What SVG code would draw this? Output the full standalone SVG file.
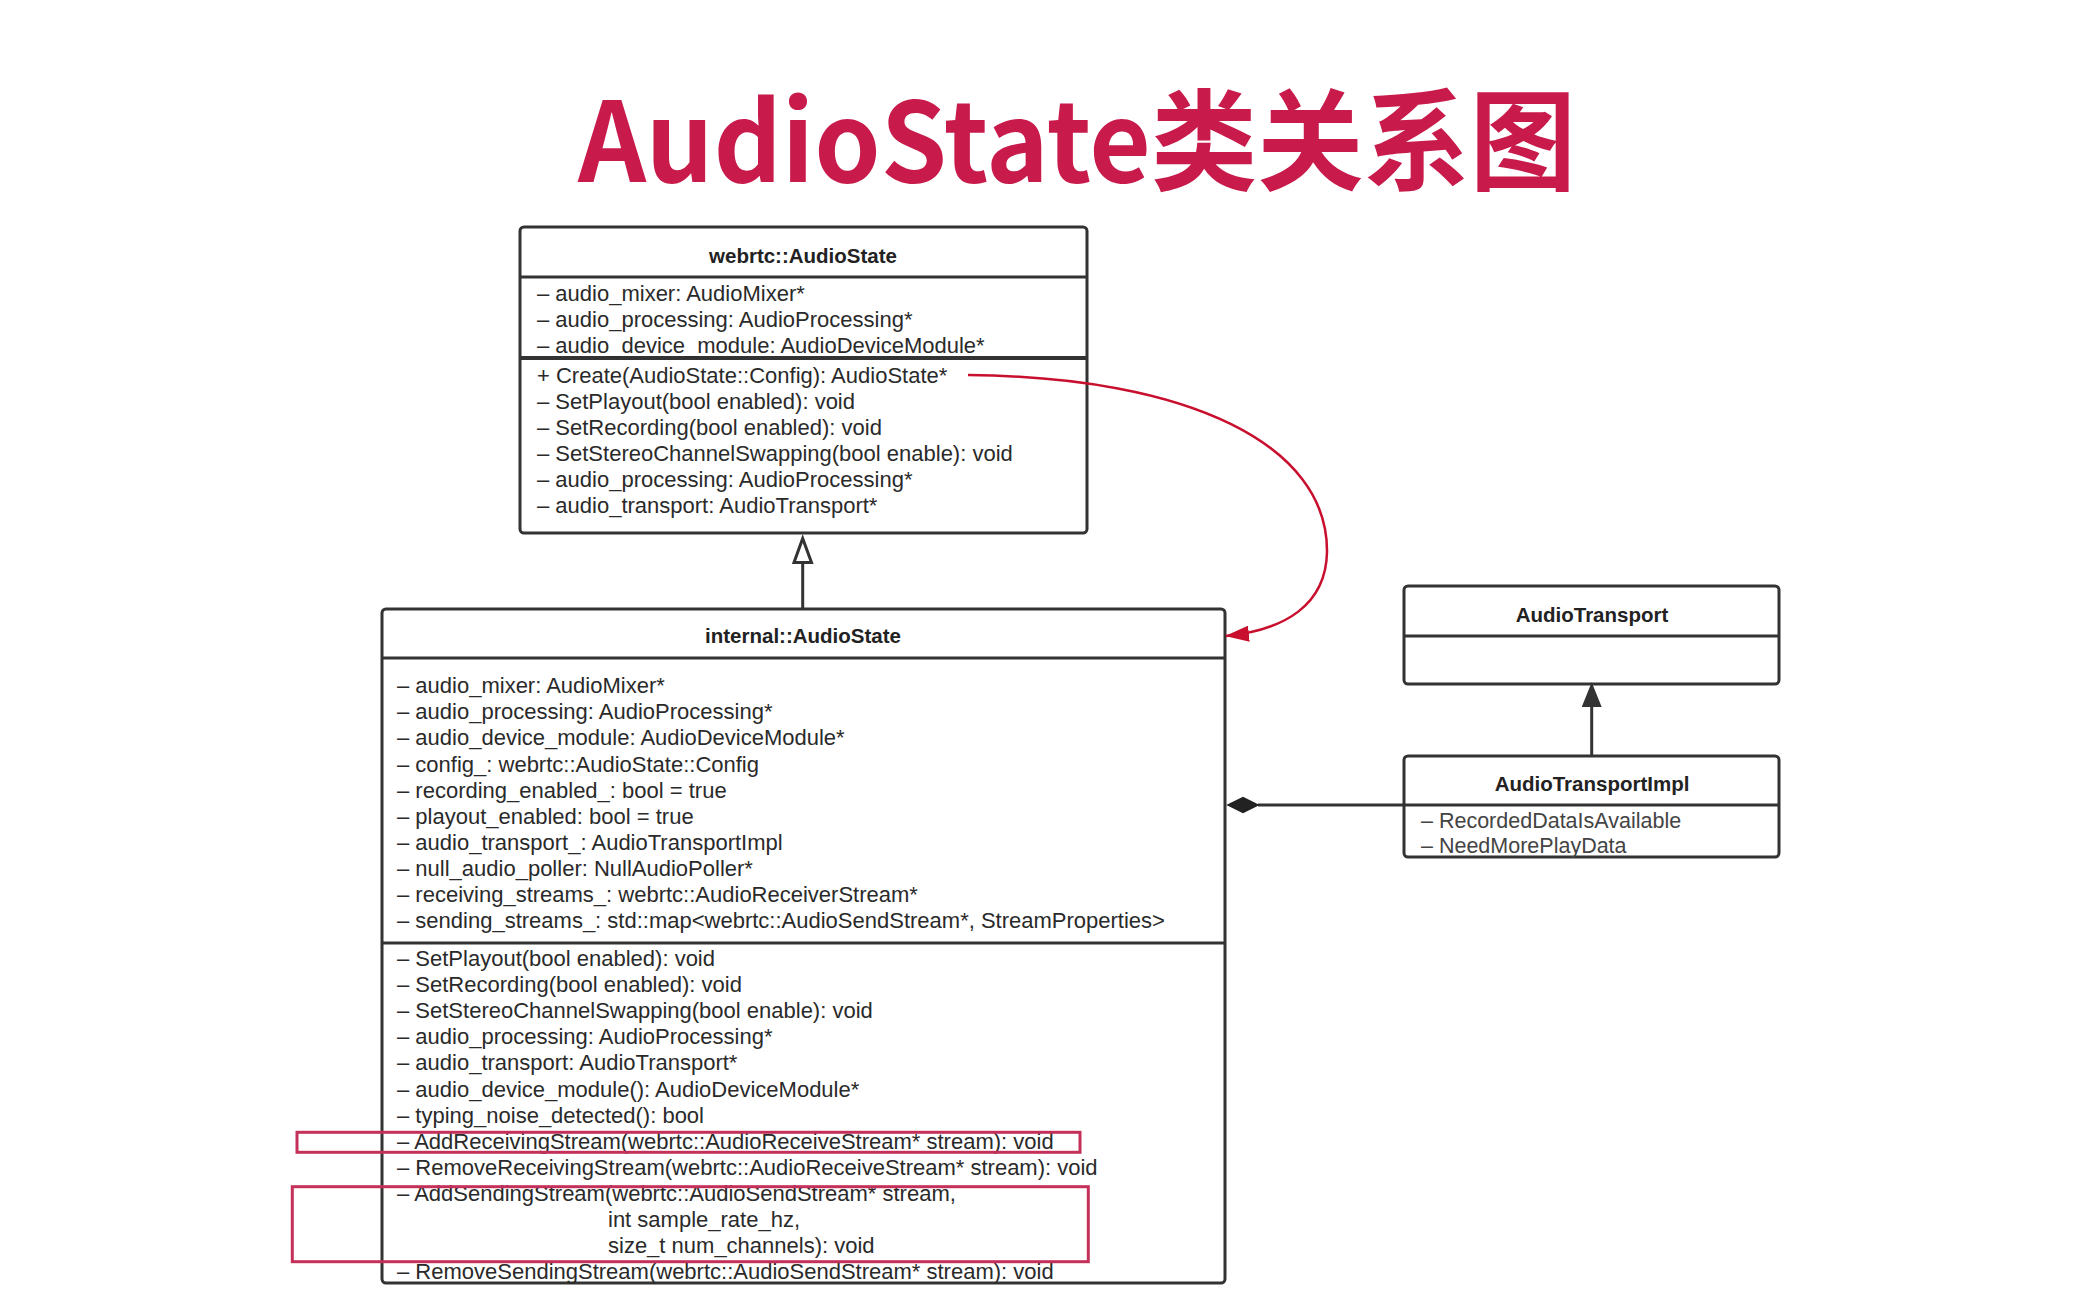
<svg xmlns="http://www.w3.org/2000/svg" width="2076" height="1312" viewBox="0 0 2076 1312">
<style>
.box{fill:#fff;stroke:#333;stroke-width:3}
.div{stroke:#333;stroke-width:3;fill:none}
.hdr{font-family:"Liberation Sans",Arial,sans-serif;font-weight:bold;font-size:20.5px;fill:#222;text-anchor:middle}
.t{font-family:"Liberation Sans",Arial,sans-serif;font-size:22px;fill:#2a2a2a}
.t2{font-family:"Liberation Sans",Arial,sans-serif;font-size:21.5px;fill:#444}
.conn{stroke:#333;stroke-width:3;fill:none}
.hl{fill:none;stroke:#c4305a;stroke-width:3}
.title{font-family:"Noto Sans CJK SC","Noto Sans",sans-serif;font-weight:bold;font-size:110px;fill:#c81a4b}
</style>
<defs>
<marker id="redArrow" viewBox="0 0 24 16" refX="23" refY="8" markerWidth="24" markerHeight="16" markerUnits="userSpaceOnUse" orient="auto">
<path d="M0,0 L24,8 L0,16 Z" fill="#c8102e"/>
</marker>
</defs>
<rect width="2076" height="1312" fill="#fff"/>
<text class="title" x="578" y="182" textLength="998" lengthAdjust="spacingAndGlyphs">AudioState类关系图</text>

<g id="webrtc-AudioState">
<rect class="box" x="520" y="227" width="567" height="306" rx="4"/>
<line class="div" x1="520" y1="277" x2="1087" y2="277"/>
<line class="div" x1="520" y1="358" x2="1087" y2="358" style="stroke-width:4"/>
<text class="hdr" x="803" y="263">webrtc::AudioState</text>
<text class="t" x="537" y="301">– audio_mixer: AudioMixer*</text>
<text class="t" x="537" y="327">– audio_processing: AudioProcessing*</text>
<text class="t" x="537" y="353">– audio_device_module: AudioDeviceModule*</text>
<text class="t" x="537" y="383">+ Create(AudioState::Config): AudioState*</text>
<text class="t" x="537" y="409">– SetPlayout(bool enabled): void</text>
<text class="t" x="537" y="435">– SetRecording(bool enabled): void</text>
<text class="t" x="537" y="461">– SetStereoChannelSwapping(bool enable): void</text>
<text class="t" x="537" y="487">– audio_processing: AudioProcessing*</text>
<text class="t" x="537" y="513">– audio_transport: AudioTransport*</text>
</g>

<g id="internal-AudioState">
<rect class="box" x="382" y="609" width="843" height="674" rx="4"/>
<line class="div" x1="382" y1="658" x2="1225" y2="658"/>
<line class="div" x1="382" y1="943" x2="1225" y2="943"/>
<text class="hdr" x="803" y="643">internal::AudioState</text>
<text class="t" x="397" y="693.3">– audio_mixer: AudioMixer*</text>
<text class="t" x="397" y="719.4">– audio_processing: AudioProcessing*</text>
<text class="t" x="397" y="745.4">– audio_device_module: AudioDeviceModule*</text>
<text class="t" x="397" y="771.5">– config_: webrtc::AudioState::Config</text>
<text class="t" x="397" y="797.5">– recording_enabled_: bool = true</text>
<text class="t" x="397" y="823.6">– playout_enabled: bool = true</text>
<text class="t" x="397" y="849.6">– audio_transport_: AudioTransportImpl</text>
<text class="t" x="397" y="875.7">– null_audio_poller: NullAudioPoller*</text>
<text class="t" x="397" y="901.7">– receiving_streams_: webrtc::AudioReceiverStream*</text>
<text class="t" x="397" y="927.8">– sending_streams_: std::map&lt;webrtc::AudioSendStream*, StreamProperties&gt;</text>
<text class="t" x="397" y="966">– SetPlayout(bool enabled): void</text>
<text class="t" x="397" y="992.1">– SetRecording(bool enabled): void</text>
<text class="t" x="397" y="1018.2">– SetStereoChannelSwapping(bool enable): void</text>
<text class="t" x="397" y="1044.3">– audio_processing: AudioProcessing*</text>
<text class="t" x="397" y="1070.4">– audio_transport: AudioTransport*</text>
<text class="t" x="397" y="1096.5">– audio_device_module(): AudioDeviceModule*</text>
<text class="t" x="397" y="1122.6">– typing_noise_detected(): bool</text>
<text class="t" x="397" y="1148.7">– AddReceivingStream(webrtc::AudioReceiveStream* stream): void</text>
<text class="t" x="397" y="1174.8">– RemoveReceivingStream(webrtc::AudioReceiveStream* stream): void</text>
<text class="t" x="397" y="1200.9">– AddSendingStream(webrtc::AudioSendStream* stream,</text>
<text class="t" x="608" y="1227">int sample_rate_hz,</text>
<text class="t" x="608" y="1253.1">size_t num_channels): void</text>
<text class="t" x="397" y="1279.2">– RemoveSendingStream(webrtc::AudioSendStream* stream): void</text>
</g>

<g id="AudioTransport">
<rect class="box" x="1404" y="586" width="375" height="98" rx="4"/>
<line class="div" x1="1404" y1="636" x2="1779" y2="636"/>
<text class="hdr" x="1592" y="621.5">AudioTransport</text>
</g>

<g id="AudioTransportImpl">
<rect class="box" x="1404" y="756" width="375" height="101" rx="4"/>
<line class="div" x1="1404" y1="805" x2="1779" y2="805"/>
<text class="hdr" x="1592" y="790.5">AudioTransportImpl</text>
<text class="t2" x="1421" y="828.3">– RecordedDataIsAvailable</text>
<text class="t2" x="1421" y="853.3">– NeedMorePlayData</text>
</g>

<g id="connectors">
<line class="conn" x1="802.7" y1="608" x2="802.7" y2="563"/>
<path d="M802.7,538.5 L811.5,562.5 L794,562.5 Z" fill="#fff" stroke="#333" stroke-width="3" stroke-linejoin="miter"/>
<line class="conn" x1="1591.7" y1="756" x2="1591.7" y2="705"/>
<path d="M1591.7,685 L1600.2,706 L1583.2,706 Z" fill="#333" stroke="#333" stroke-width="2"/>
<line class="conn" x1="1258" y1="805" x2="1404" y2="805"/>
<path d="M1228,805 L1243,797.5 L1258,805 L1243,812.5 Z" fill="#222" stroke="#222" stroke-width="1.5"/>
<path d="M968,375 C1190,377 1328,445 1327,552 C1326,605 1285,630 1226,636" fill="none" stroke="#c8102e" stroke-width="2.5" marker-end="url(#redArrow)"/>
<rect class="hl" x="297" y="1132.3" width="783" height="20"/>
<rect class="hl" x="292.3" y="1186.7" width="796" height="75"/>
</g>
</svg>
